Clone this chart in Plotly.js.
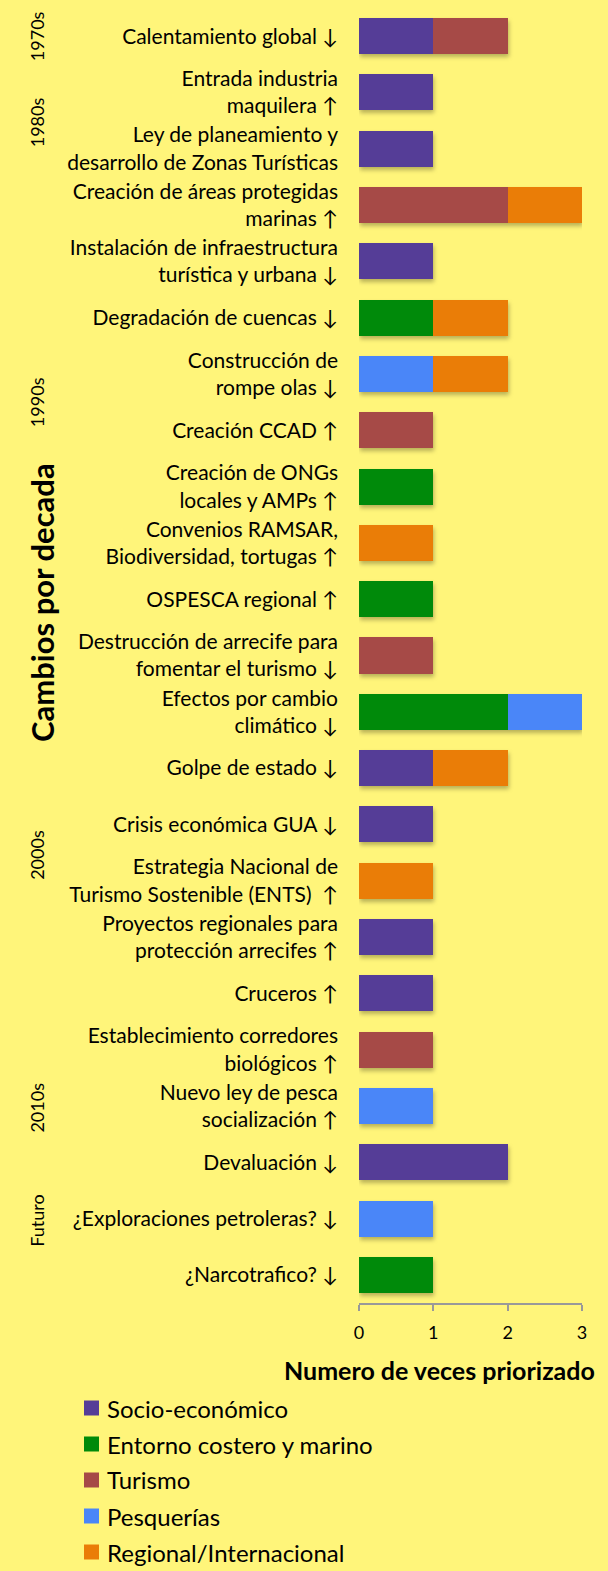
<!DOCTYPE html>
<html>
<head>
<meta charset="utf-8">
<script src="https://cdn.plot.ly/plotly-3.0.1.min.js"></script>
<style>
html,body{margin:0;padding:0;background:#FFF57A;}
.barlayer{filter: drop-shadow(1px 3px 2px rgba(0,0,0,0.28));}
</style>
</head>
<body>
<div id="chart" style="width:608px;height:1571px;"></div>
<script>
const categories = [
  "Calentamiento global ↓",
  "Entrada industria<br>maquilera ↑",
  "Ley de planeamiento y<br>desarrollo de Zonas Turísticas",
  "Creación de áreas protegidas<br>marinas ↑",
  "Instalación de infraestructura<br>turística y urbana ↓",
  "Degradación de cuencas ↓",
  "Construcción de<br>rompe olas ↓",
  "Creación CCAD ↑",
  "Creación de ONGs<br>locales y AMPs ↑",
  "Convenios RAMSAR,<br>Biodiversidad, tortugas ↑",
  "OSPESCA regional ↑",
  "Destrucción de arrecife para<br>fomentar el turismo ↓",
  "Efectos por cambio<br>climático ↓",
  "Golpe de estado ↓",
  "Crisis económica GUA ↓",
  "Estrategia Nacional de<br>Turismo Sostenible (ENTS)  ↑",
  "Proyectos regionales para<br>protección arrecifes ↑",
  "Cruceros ↑",
  "Establecimiento corredores<br>biológicos ↑",
  "Nuevo ley de pesca<br>socialización ↑",
  "Devaluación ↓",
  "¿Exploraciones petroleras? ↓",
  "¿Narcotrafico? ↓"
];
const socioEconomico   = [1,1,1,0,1,0,0,0,0,0,0,0,0,1,1,0,1,1,0,0,2,0,0];
const entornoCostero   = [0,0,0,0,0,1,0,0,1,0,1,0,2,0,0,0,0,0,0,0,0,0,1];
const turismo          = [1,0,0,2,0,0,0,1,0,0,0,1,0,0,0,0,0,0,1,0,0,0,0];
const pesquerias       = [0,0,0,0,0,0,1,0,0,0,0,0,1,0,0,0,0,0,0,1,0,1,0];
const regionalIntl     = [0,0,0,1,0,1,1,0,0,1,0,0,0,1,0,1,0,0,0,0,0,0,0];
const seriesNames = ["Socio-económico","Entorno costero y marino","Turismo","Pesquerías","Regional/Internacional"];
const seriesValues = [socioEconomico, entornoCostero, turismo, pesquerias, regionalIntl];
const seriesColors = ["#553D97","#008A0A","#A64A47","#4A86F8","#EA7D07"];
const xTicks = [0,1,2,3];
const decadeLabels = ["1970s","1980s","1990s","2000s","2010s","Futuro"];
const decadePos = [0, 1.53, 6.5, 14.54, 19.03, 21.04];

const W = 608, H = 1571;
const M = {l:359, r:26, t:8, b:268};
const plotW = W - M.l - M.r, plotH = H - M.t - M.b;
const px2x = p => (p - M.l) / plotW;
const px2y = p => (H - M.b - p) / plotH;

const FONT = "Lato, 'Open Sans', sans-serif";
const traces = seriesNames.map((n,i)=>({
  type:'bar', orientation:'h', name:n,
  y: categories, x: seriesValues[i],
  marker:{color:seriesColors[i], line:{width:0}},
  hoverinfo:'skip', showlegend:false
}));

const annotations = decadeLabels.map((d,i)=>({
  text:d, xref:'paper', yref:'y', x:px2x(37), y:decadePos[i],
  textangle:-90, showarrow:false, xanchor:'center', yanchor:'middle',
  font:{family:FONT, size:18, color:'#000'}
}));
annotations.push({
  text:'<b>Cambios por decada</b>', xref:'paper', yref:'paper', x:px2x(42), y:px2y(603),
  textangle:-90, showarrow:false, xanchor:'center', yanchor:'middle',
  font:{family:FONT, size:31, color:'#000'}
});
annotations.push({
  text:'<b>Numero de veces priorizado</b>', xref:'paper', yref:'paper', x:px2x(597), y:px2y(1370),
  showarrow:false, xanchor:'right', yanchor:'middle',
  font:{family:FONT, size:25, color:'#000'}
});

// manual legend (swatch + label)
const shapes = [];
seriesNames.forEach((n,i)=>{
  const cy = 1408 + 36*i;
  shapes.push({type:'rect', xref:'paper', yref:'paper',
    x0:px2x(84), x1:px2x(99), y0:px2y(cy-7.5), y1:px2y(cy+7.5),
    fillcolor:seriesColors[i], line:{width:0}});
  annotations.push({text:n, xref:'paper', yref:'paper', x:px2x(105), y:px2y(cy),
    showarrow:false, xanchor:'left', yanchor:'middle',
    font:{family:FONT, size:24, color:'#000'}});
});

const layout = {
  width:W, height:H,
  paper_bgcolor:'#FFF57A', plot_bgcolor:'#FFF57A',
  margin:M,
  barmode:'stack', bargap:0.36,
  showlegend:false,
  xaxis:{range:[0,3], tickvals:xTicks, ticks:'outside', ticklen:6, tickwidth:2, tickcolor:'#999',
         showline:true, linecolor:'#999', linewidth:2, showgrid:false, zeroline:false,
         ticklabelstandoff:6,
         tickfont:{family:FONT, size:18, color:'#000'}, fixedrange:true},
  yaxis:{type:'category', autorange:'reversed', showgrid:false, zeroline:false, showline:false,
         ticks:'', ticklabelstandoff:20,
         tickfont:{family:FONT, size:21, color:'#000'}, fixedrange:true},
  annotations: annotations,
  shapes: shapes,
  font:{family:FONT}
};
Plotly.newPlot('chart', traces, layout, {displayModeBar:false, staticPlot:true});
</script>
</body>
</html>
